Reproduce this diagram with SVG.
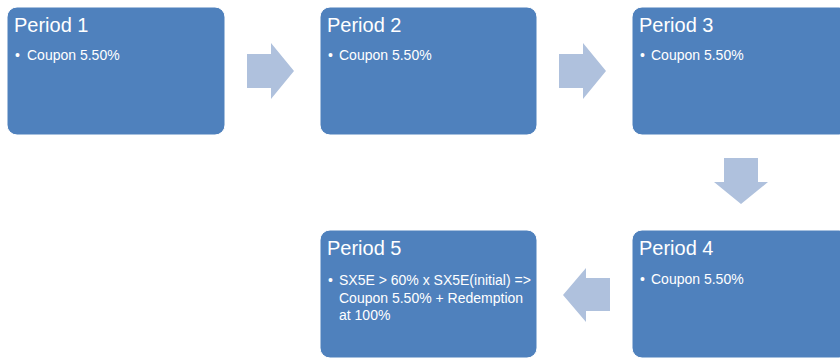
<svg xmlns="http://www.w3.org/2000/svg" width="840" height="361" viewBox="0 0 840 361">
<style>
.box{fill:#4F81BD;stroke:#ffffff;stroke-width:1}
.arrow{fill:#AFC1DD}
.title{font-family:"Liberation Sans",Arial,sans-serif;font-size:20px;fill:#ffffff}
.item{font-family:"Liberation Sans",Arial,sans-serif;font-size:14px;fill:#ffffff}
</style>
<rect width="840" height="361" fill="#ffffff"/>
<g id="connectors">
<polygon class="arrow" points="247,54 271,54 271,43 294,71 271,99 271,88 247,88"/>
<polygon class="arrow" points="559,54 583,54 583,43 606,71 583,99 583,88 559,88"/>
<polygon class="arrow" points="724,158 758,158 758,182 768,182 741,204 714,182 724,182"/>
<polygon class="arrow" points="610,278 610,311 586,311 586,322 563,295 586,268 586,278"/>
</g>
<g id="period1">
<rect class="box" x="7" y="7" width="218" height="128" rx="10"/>
<text class="title" x="14" y="32">Period 1</text>
<text class="item" x="15" y="60">•</text>
<text class="item" x="27" y="60">Coupon 5.50%</text>
</g>
<g id="period2">
<rect class="box" x="320" y="7" width="217" height="128" rx="10"/>
<text class="title" x="327" y="32">Period 2</text>
<text class="item" x="328" y="60">•</text>
<text class="item" x="339" y="60">Coupon 5.50%</text>
</g>
<g id="period3">
<rect class="box" x="632" y="7" width="217" height="128" rx="10"/>
<text class="title" x="639" y="32">Period 3</text>
<text class="item" x="640" y="60">•</text>
<text class="item" x="651" y="60">Coupon 5.50%</text>
</g>
<g id="period4">
<rect class="box" x="632" y="230" width="217" height="128" rx="10"/>
<text class="title" x="639" y="255">Period 4</text>
<text class="item" x="640" y="284">•</text>
<text class="item" x="651" y="284">Coupon 5.50%</text>
</g>
<g id="period5">
<rect class="box" x="320" y="230" width="217" height="128" rx="10"/>
<text class="title" x="327" y="255">Period 5</text>
<text class="item" x="328" y="285">•</text>
<text class="item" x="339" y="285">SX5E &gt; 60% x SX5E(initial) =&gt;</text>
<text class="item" x="339" y="303">Coupon 5.50% + Redemption</text>
<text class="item" x="339" y="320">at 100%</text>
</g>
</svg>
